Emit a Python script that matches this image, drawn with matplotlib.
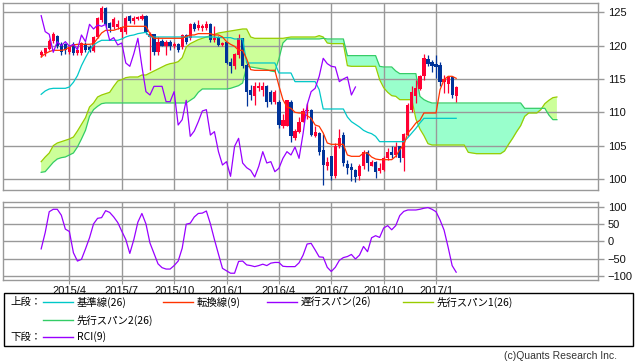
import numpy as np
import pandas as pd
import matplotlib
matplotlib.use("Agg")
import matplotlib.pyplot as plt
from matplotlib.lines import Line2D
from matplotlib.patches import Rectangle

# ---------------- data (weekly bars) ----------------
start_week = "2015-02-16"
open_ = [118.6,118.9,119.5,120.7,121.5,120.2,120.2,119.0,120.3,118.9,
         118.9,120.3,119.8,119.2,121.3,123.9,125.7,123.4,122.8,122.8,
         122.0,122.0,124.4,123.7,124.0,124.0,124.5,121.3,121.7,119.0,
         120.7,119.9,120.6,119.9,120.3,119.8,121.6,121.1,123.2,122.6,
         122.6,122.6,123.2,120.9,121.3,120.1,120.5,117.6,116.9,118.6,
         121.1,117.1,113.3,112.4,113.7,113.3,113.9,113.1,111.6,111.6,
         107.9,108.0,111.6,106.2,107.1,108.6,110.2,110.4,106.5,106.9,
         104.4,102.0,103.4,100.4,104.9,106.6,102.3,101.8,101.3,100.4,
         101.9,104.1,102.0,102.6,101.2,101.4,103.1,104.1,103.6,104.9,
         103.1,106.6,110.4,112.4,113.5,115.4,118.0,117.6,117.3,117.1,
         114.5,114.3,115.3,112.4]
high_ = [119.3,119.7,121.0,122.0,121.6,120.5,120.4,120.1,120.6,119.9,
         120.6,120.6,120.1,121.5,124.3,125.9,125.8,123.6,124.3,123.9,
         123.0,124.5,124.6,124.4,124.5,124.8,124.6,122.0,121.8,121.3,
         121.0,120.9,120.8,120.6,120.4,121.8,121.7,123.4,123.6,123.8,
         123.2,123.7,123.4,123.0,121.5,120.6,120.6,118.2,118.9,121.7,
         121.2,117.4,114.1,114.6,114.5,114.6,114.1,113.3,113.3,111.9,
         109.7,111.9,111.9,107.5,109.3,110.6,111.4,110.5,107.9,107.0,
         106.8,103.3,103.5,105.4,107.5,107.0,102.8,102.4,101.5,102.2,
         104.3,104.3,102.9,102.7,102.4,103.5,104.6,104.9,105.5,105.0,
         106.9,111.4,113.9,114.8,115.6,118.7,118.6,117.8,118.6,117.6,
         115.6,115.4,115.4,114.0]
low_ = [118.3,118.5,119.3,120.4,119.6,118.6,118.8,118.7,118.6,118.6,
        118.6,119.0,119.0,119.0,121.1,123.6,122.6,122.0,122.5,122.5,
        121.0,121.8,123.4,123.3,123.8,123.8,121.8,116.3,118.6,118.6,
        119.9,118.6,119.3,119.6,119.1,119.5,120.3,120.9,122.2,122.3,
        122.2,122.3,120.6,120.6,119.9,119.9,117.3,115.9,116.5,118.1,
        116.6,110.9,111.9,111.1,113.2,112.4,110.8,111.3,111.3,107.6,
        107.6,107.9,105.5,105.9,106.9,108.5,109.0,106.5,106.3,103.6,
        99.1,101.4,99.9,100.1,104.7,102.0,100.7,99.7,99.6,99.9,
        101.5,101.2,101.9,100.1,100.9,101.2,102.9,103.2,103.3,102.5,
        101.2,106.4,110.1,111.4,113.3,114.9,116.9,116.1,115.1,113.9,
        112.9,112.9,112.1,111.6]
close_ = [119.1,119.6,120.7,121.8,120.0,119.0,119.4,119.8,118.9,119.3,
          120.4,119.3,119.3,121.3,124.1,125.7,123.2,122.6,124.0,123.3,
          122.8,124.1,123.7,124.1,124.3,124.5,122.1,121.7,119.0,120.6,
          120.0,120.6,119.9,120.2,119.4,121.6,120.6,123.2,122.5,123.1,
          122.9,123.2,120.8,121.2,120.1,120.4,117.4,116.9,118.8,121.1,
          116.9,113.1,112.6,113.9,113.9,113.9,111.6,111.6,113.1,108.1,
          108.9,111.8,106.4,107.2,108.6,110.2,110.4,106.6,107.1,104.1,
          102.1,102.6,100.4,104.9,106.1,102.4,101.7,101.3,100.3,101.9,
          104.1,102.4,102.6,101.1,101.6,103.1,104.1,103.6,104.8,103.1,
          106.8,111.1,113.1,113.6,115.4,118.1,117.3,116.9,116.8,114.6,
          115.0,115.3,112.6,113.8]
tenkan = [118.3,118.8,119.1,119.3,119.3,119.3,119.4,119.8,120.1,120.2,
          120.2,120.2,120.2,120.3,121.1,121.9,122.3,122.3,122.3,122.5,
          122.7,122.9,122.9,122.9,122.9,122.9,122.9,121.8,121.1,121.1,
          121.1,121.1,121.1,121.1,121.1,121.1,121.4,121.6,121.6,121.8,
          121.8,121.8,121.8,121.6,121.6,121.3,120.6,120.2,119.9,119.3,
          119.3,118.0,116.4,116.3,116.3,116.3,116.3,116.3,116.3,114.0,
          111.9,110.8,110.6,110.0,109.9,109.9,109.5,109.1,108.1,107.9,
          106.9,105.4,105.2,105.2,105.2,105.2,103.6,103.4,103.4,103.4,
          103.9,103.9,103.3,103.0,102.9,102.9,102.9,102.9,103.4,104.4,
          105.1,106.9,107.6,108.4,108.8,109.9,109.9,109.9,109.9,113.4,
          114.9,115.4,115.4,115.1]
kijun = [112.7,113.2,113.5,113.6,113.6,113.6,113.6,113.8,114.5,115.5,
         117.0,118.2,119.3,120.1,120.5,120.8,120.8,120.8,120.8,120.8,
         121.0,121.3,121.5,121.6,121.8,121.9,122.0,121.3,121.3,121.3,
         121.3,121.3,121.3,121.3,121.3,121.3,121.3,121.3,121.3,121.3,
         121.3,121.3,121.3,121.3,121.2,121.2,121.2,121.2,121.0,121.0,
         121.0,117.4,117.4,117.4,117.4,117.4,117.4,117.4,117.4,115.9,
         115.9,115.9,115.9,114.6,114.6,114.6,114.6,114.6,114.6,113.4,
         110.5,110.5,110.5,110.5,110.5,110.5,109.3,108.6,108.2,107.8,
         107.3,107.0,106.8,106.4,105.6,105.6,105.6,105.6,105.6,105.6,
         105.6,106.2,106.9,107.6,108.4,109.1,109.1,109.1,109.1,109.1,
         109.1,109.1,109.1,109.1]
span1 = [102.6,103.3,103.9,105.0,105.4,105.6,105.8,106.0,106.3,107.2,
         108.2,109.2,110.8,111.4,112.3,112.6,112.8,113.0,113.9,114.7,
         114.9,115.2,115.3,115.3,115.3,115.6,115.6,115.9,116.2,116.5,
         116.8,117.1,117.3,117.4,117.6,118.2,119.8,120.3,120.6,120.9,
         121.1,121.3,121.5,121.7,121.9,122.0,122.1,122.2,122.3,122.4,
         122.5,122.5,121.3,121.1,121.1,121.1,121.1,121.1,121.1,121.1,
         121.1,121.2,121.3,121.3,121.3,121.3,121.3,121.3,121.3,121.5,
         121.3,120.4,120.3,120.3,120.3,120.3,117.0,116.9,116.9,116.9,
         116.9,116.9,116.9,116.9,114.9,113.7,113.0,112.5,112.4,111.9,
         111.9,111.9,111.9,109.0,107.5,106.5,105.3,105.1,105.1,105.1,
         105.1,105.1,105.1,105.1,105.1,105.1,104.0,103.9,103.8,103.8,
         103.8,103.8,103.8,103.8,103.8,104.2,105.2,106.1,107.1,108.0,
         109.4,109.9,109.9,109.9,110.4,111.3,111.8,112.2,112.3]
span2 = [101.0,101.1,101.8,102.5,103.0,103.2,103.3,103.6,103.9,104.8,
         106.0,107.3,109.4,110.4,110.9,111.3,111.4,111.4,111.4,111.4,
         111.4,111.4,111.4,111.4,111.4,111.4,111.4,111.4,111.4,111.4,
         111.4,111.4,111.4,111.4,111.4,111.4,111.4,111.8,112.2,113.0,
         113.5,113.5,113.5,113.5,113.5,113.5,113.5,113.6,113.8,114.0,
         114.4,116.9,116.8,116.7,116.6,116.5,116.4,116.2,116.1,118.0,
         120.4,121.0,121.0,121.0,121.0,121.0,121.0,121.0,121.0,121.0,
         121.1,121.0,121.0,121.0,121.0,121.0,118.5,118.5,118.5,118.5,
         118.5,118.5,118.5,118.5,116.9,116.8,116.8,116.8,116.2,115.8,
         115.8,115.8,115.8,115.8,112.4,111.9,111.6,111.4,111.4,111.4,
         111.4,111.4,111.4,111.4,111.4,111.4,111.4,111.4,111.4,111.4,
         111.4,111.4,111.4,111.4,111.4,111.4,111.4,111.4,111.4,111.4,
         110.6,110.6,110.6,110.6,110.6,110.6,109.6,108.9,108.9]
rci = [-22,25,85,92,92,75,35,28,-33,-57,
       -52,-22,10,50,66,68,88,83,70,54,
       29,5,-35,5,55,80,50,-5,-35,-65,
       -76,-80,-80,-70,-57,-20,49,52,70,80,
       81,87,50,5,-37,-78,-85,-92,-92,-58,
       -57,-68,-70,-73,-70,-66,-70,-63,-61,-61,
       -72,-73,-73,-73,-62,-40,-8,-6,-25,-45,
       -46,-75,-87,-75,-55,-47,-44,-38,-51,-40,
       -15,-30,10,16,11,38,45,33,45,74,
       86,90,90,90,92,95,97,92,85,61,
       32,-17,-70,-89]
lag = 25
tick_months = ["2015-04", "2015-07", "2015-10", "2016-01", "2016-04", "2016-07", "2016-10", "2017-01"]
tick_labels = ["2015/4", "2015/7", "2015/10", "2016/1", "2016/4", "2016/7", "2016/10", "2017/1"]
price_ticks = [100, 105, 110, 115, 120, 125]
rci_ticks = [-100, -50, 0, 50, 100]

# ---------------- figure ----------------
W, H = 638, 362
fig = plt.figure(figsize=(W / 100, H / 100), dpi=100)
fig.patch.set_facecolor("white")

def fx(px):
    return px / W

def fy(py):
    return 1 - py / H

ax = fig.add_axes([fx(3.3), fy(190), fx(598) - fx(3.3), fy(3.3) - fy(190)])
ax2 = fig.add_axes([fx(3.3), fy(280), fx(598) - fx(3.3), fy(201.5) - fy(280)])

O = np.array(open_); Hh = np.array(high_); L = np.array(low_); C = np.array(close_)
n = len(C)
x = np.arange(n)
xs = np.arange(len(span1))
dates = pd.date_range(start_week, periods=n, freq="W-MON")
tick_pos = [int(np.argmax(dates >= pd.Timestamp(m + "-01"))) for m in tick_months]

GRID = "#999999"
UP, DN = "#ff0033", "#003399"
C_TEN, C_KIJ, C_CHI = "#ff3300", "#00c8c8", "#9900ff"
C_S1, C_S2 = "#99cc00", "#33cc66"
F_BULL, F_BEAR = "#ccff99", "#99ffcc"

s1 = np.array(span1); s2 = np.array(span2)
ax.fill_between(xs, s1, s2, where=s1 >= s2, interpolate=True, color=F_BULL, lw=0, zorder=0.2)
ax.fill_between(xs, s1, s2, where=s1 < s2, interpolate=True, color=F_BEAR, lw=0, zorder=0.2)
ax.plot(xs, s1, color=C_S1, lw=0.9, zorder=2)
ax.plot(xs, s2, color=C_S2, lw=0.9, zorder=2)

up = C >= O
cols = np.where(up, UP, DN)
ax.vlines(x, L, Hh, colors=cols, lw=0.9, zorder=3)
body = np.maximum(np.abs(C - O), 0.12)
ax.bar(x, body, bottom=np.minimum(O, C), width=0.8, color=cols, lw=0, zorder=3)

ax.plot(x, kijun, color=C_KIJ, lw=0.9, zorder=4)
ax.plot(x, tenkan, color=C_TEN, lw=0.9, zorder=4)
ax.plot(x[:n - lag], C[lag:], color=C_CHI, lw=0.9, zorder=4)

ax2.plot(x, rci, color=C_CHI, lw=0.9, zorder=3)

xlim = (-9.4, 138.2)
for a in (ax, ax2):
    a.set_xlim(*xlim)
    a.set_xticks(tick_pos)
    a.grid(True, color=GRID, lw=1)
    a.set_axisbelow(True)
    for s in a.spines.values():
        s.set_color(GRID)
        s.set_linewidth(1)
    a.yaxis.tick_right()
    a.tick_params(axis="y", length=4, color=GRID, width=1, labelsize=8, pad=3,
                  labelcolor="#111111")

ax.set_ylim(98.35, 126.35)
ax.set_yticks(price_ticks)
ax.set_yticklabels([str(v) for v in price_ticks], family="Liberation Sans", fontsize=8)
ax.tick_params(axis="x", length=0, labelbottom=False)

ax2.set_ylim(-111.5, 114.4)
ax2.set_yticks(rci_ticks)
ax2.set_yticklabels([str(v).replace("-", "\u2212") for v in rci_ticks], family="Liberation Sans", fontsize=8)
ax2.set_xticklabels(tick_labels, family="Liberation Sans", fontsize=8, color="#111111")
ax2.tick_params(axis="x", length=3, color=GRID, pad=1)

# ---------------- legend box ----------------
fig.patches.append(Rectangle((fx(3.5), fy(346)), fx(633) - fx(3.5), fy(293) - fy(346),
                             transform=fig.transFigure, fill=False, edgecolor="black", lw=1))
JP = ["Noto Sans CJK JP", "DejaVu Sans"]
fs = 7.5

def legend_item(x0, y, color, label):
    fig.lines.append(Line2D([fx(x0), fx(x0 + 30)], [fy(y), fy(y)], transform=fig.transFigure,
                            color=color, lw=1))
    fig.text(fx(x0 + 34), fy(y), label, family=JP, fontsize=fs, va="center", ha="left")

fig.text(fx(10), fy(302), "上段：", family=JP, fontsize=fs, va="center", ha="left")
legend_item(43, 302, C_KIJ, "基準線(26)")
legend_item(163, 302, C_TEN, "転換線(9)")
legend_item(267, 302, C_CHI, "遅行スパン(26)")
legend_item(403, 302, C_S1, "先行スパン1(26)")
legend_item(43, 320, C_S2, "先行スパン2(26)")
fig.text(fx(10), fy(337), "下段：", family=JP, fontsize=fs, va="center", ha="left")
legend_item(43, 337, C_CHI, "RCI(9)")

fig.text(fx(617), fy(356), "(c)Quants Research Inc.", family="Liberation Sans", fontsize=7.5,
         va="center", ha="right", color="#333333")

fig.savefig("out.png", dpi=100, facecolor="white")
